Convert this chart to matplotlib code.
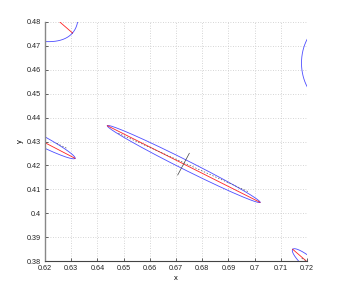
import numpy as np
import matplotlib
matplotlib.use("Agg")
import matplotlib.pyplot as plt

plt.rcParams['font.family'] = ['Liberation Sans', 'DejaVu Sans']

# Ellipses: center, major-axis tip, minor-axis end (data units)
centers = [(0.67292, 0.42059), (0.61452, 0.43261), (0.56126, 0.54117),
           (0.72935, 0.46285), (0.72191, 0.37791)]
major_tips = [(0.70206, 0.40456), (0.63145, 0.42297), (0.63050, 0.47540),
              (0.72935, 0.47984), (0.71454, 0.38490)]
minor_ends = [(0.67373, 0.42234), (0.61547, 0.43462), (0.57876, 0.56331),
              (0.71790, 0.46285), (0.72340, 0.37979)]

# Dark dashed segments
dark_x = [(0.64798, 0.69760), (0.62447, 0.62828), (0.71798, 0.71989)]
dark_y = [(0.43343, 0.40900), (0.42925, 0.42716), (0.38113, 0.38000)]
# Cross line at main ellipse
cross_x = [0.67065, 0.67508]
cross_y = [0.41598, 0.42506]

xticks = [0.62, 0.63, 0.64, 0.65, 0.66, 0.67, 0.68, 0.69, 0.70, 0.71, 0.72]
xticklabels = ['0.62', '0.63', '0.64', '0.65', '0.66', '0.67', '0.68', '0.69', '0.7', '0.71', '0.72']
yticks = [0.38, 0.39, 0.40, 0.41, 0.42, 0.43, 0.44, 0.45, 0.46, 0.47, 0.48]
yticklabels = ['0.38', '0.39', '0.4', '0.41', '0.42', '0.43', '0.44', '0.45', '0.46', '0.47', '0.48']

fig = plt.figure(figsize=(3.38, 2.94), dpi=100)
ax = fig.add_axes([45/338, 33/294, 262/338, 239/294])

t = np.linspace(0, 2*np.pi, 400)
for c, tp, mn in zip(centers, major_tips, minor_ends):
    c = np.array(c); u = np.array(tp) - c; v = np.array(mn) - c
    pts = c[:, None] + u[:, None]*np.cos(t) + v[:, None]*np.sin(t)
    ax.plot(pts[0], pts[1], color='#4d4dff', lw=0.6)
    a = c + u; b = c - u
    ax.plot([b[0], a[0]], [b[1], a[1]], color='#ff2222', lw=0.6)

for xs, ys in zip(dark_x, dark_y):
    ax.plot(xs, ys, color='#555555', lw=0.5, ls=(0, (2, 2.5)))
ax.plot(cross_x, cross_y, color='#444444', lw=0.5)

ax.set_xlim(0.62, 0.72)
ax.set_ylim(0.38, 0.48)
ax.set_xticks(xticks)
ax.set_xticklabels(xticklabels)
ax.set_yticks(yticks)
ax.set_yticklabels(yticklabels)
ax.tick_params(direction='in', length=2, width=0.5, labelsize=5.2, pad=3, colors='#222222')
ax.grid(True, color='#c8c8c8', ls=(0, (1, 2)), lw=0.6)
ax.spines['top'].set_visible(False)
ax.spines['right'].set_visible(False)
ax.spines['left'].set_color('#888888')
ax.spines['bottom'].set_color('#444444')
ax.spines['left'].set_linewidth(1.0)
ax.spines['bottom'].set_linewidth(0.8)
ax.set_xlabel('x', fontsize=5.5, labelpad=2)
ax.set_ylabel('y', fontsize=5.5, labelpad=2)

fig.savefig('out.png', dpi=100)
